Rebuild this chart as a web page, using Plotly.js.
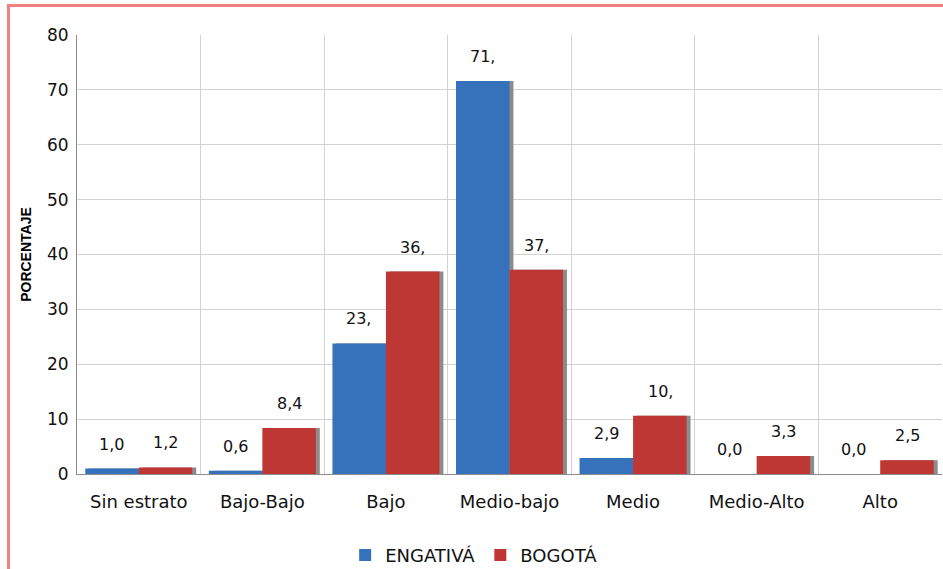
<!DOCTYPE html>
<html>
<head>
<meta charset="utf-8">
<script src="https://cdn.plot.ly/plotly-3.0.1.min.js"></script>
<style>
  html, body { margin: 0; padding: 0; background: #fff; overflow: hidden; }
  #chart { position: absolute; left: 0; top: 0; width: 943px; height: 569px; }
  #frame { position: absolute; left: 7px; top: 4px; width: 1000px; height: 700px;
           border-left: 3px solid #f47f7f; border-top: 3px solid #f47f7f; pointer-events: none; }
</style>
</head>
<body>
<div id="chart"></div>
<div id="frame"></div>
<script>
// ---- data ----
const categories = ["Sin estrato", "Bajo-Bajo", "Bajo", "Medio-bajo", "Medio", "Medio-Alto", "Alto"];
const engativa = [1.0, 0.6, 23.8, 71.6, 2.9, 0.0, 0.0];
const bogota   = [1.2, 8.4, 36.9, 37.2, 10.6, 3.3, 2.5];
const seriesNames = ["ENGATIVÁ", "BOGOTÁ"];
const yTicks = [0, 10, 20, 30, 40, 50, 60, 70, 80];

// labels are clipped to 3 characters in the original
const lbl = v => v.toFixed(1).replace('.', ',').slice(0, 3);

const BLUE = '#3672bb', RED = '#bf3735', SHADOW = '#8c8c8c';
const W = 0.433;

const shadow = (vals, off) => ({
  type: 'bar', x: categories, y: vals, offset: off + 0.032, width: W,
  marker: { color: SHADOW, line: { width: 0 } }, showlegend: false, hoverinfo: 'skip'
});

const traces = [
  shadow(engativa, -W),
  shadow(bogota, 0),
  { type: 'bar', name: seriesNames[0], x: categories, y: engativa, offset: -W, width: W,
    marker: { color: BLUE, line: { width: 0 } } },
  { type: 'bar', name: seriesNames[1], x: categories, y: bogota, offset: 0, width: W,
    marker: { color: RED, line: { width: 0 } } }
];

const annFont = { family: 'DejaVu Sans, Verdana, sans-serif', size: 16, color: '#111' };
const annotations = [];
categories.forEach((c, i) => {
  annotations.push({ x: c, y: engativa[i], text: lbl(engativa[i]), showarrow: false,
    xshift: -27, yshift: 13, yanchor: 'bottom', font: annFont });
  annotations.push({ x: c, y: bogota[i], text: lbl(bogota[i]), showarrow: false,
    xshift: 27, yshift: 13, yanchor: 'bottom', font: annFont });
});

const layout = {
  width: 943, height: 569,
  margin: { l: 77, r: 1, t: 35, b: 95, autoexpand: false },
  paper_bgcolor: '#fff', plot_bgcolor: '#fff',
  barmode: 'overlay',
  font: { family: 'DejaVu Sans, Verdana, sans-serif', color: '#111' },
  xaxis: {
    type: 'category', range: [-0.5, 6.5],
    tickson: 'boundaries', ticks: '', showgrid: true, gridcolor: '#d2d2d2', gridwidth: 1,
    showline: true, linecolor: '#8c8c8c', linewidth: 1, mirror: false,
    tickfont: { size: 18, color: '#111' }, ticklabelstandoff: 11,
    automargin: false
  },
  yaxis: {
    range: [0, 80], tickvals: yTicks, ticktext: yTicks.map(String),
    showgrid: true, gridcolor: '#d2d2d2', gridwidth: 1, zeroline: false,
    showline: true, linecolor: '#8c8c8c', linewidth: 1, ticks: '',
    tickfont: { size: 17, color: '#111' }, ticklabelstandoff: 4,
    title: { text: 'PORCENTAJE', standoff: 12,
             font: { family: 'Liberation Sans Narrow, Arial Narrow, Liberation Sans, sans-serif', size: 14, color: '#000', weight: 'bold' } },
    automargin: false
  },
  showlegend: true,
  legend: {
    orientation: 'h', x: 0.31, xanchor: 'left', y: -0.185, yanchor: 'middle',
    font: { size: 18, color: '#111' }, bgcolor: 'rgba(0,0,0,0)',
    traceorder: 'normal', itemclick: false
  },
  annotations: annotations
};

Plotly.newPlot('chart', traces, layout, { displayModeBar: false, staticPlot: true });
</script>
</body>
</html>
